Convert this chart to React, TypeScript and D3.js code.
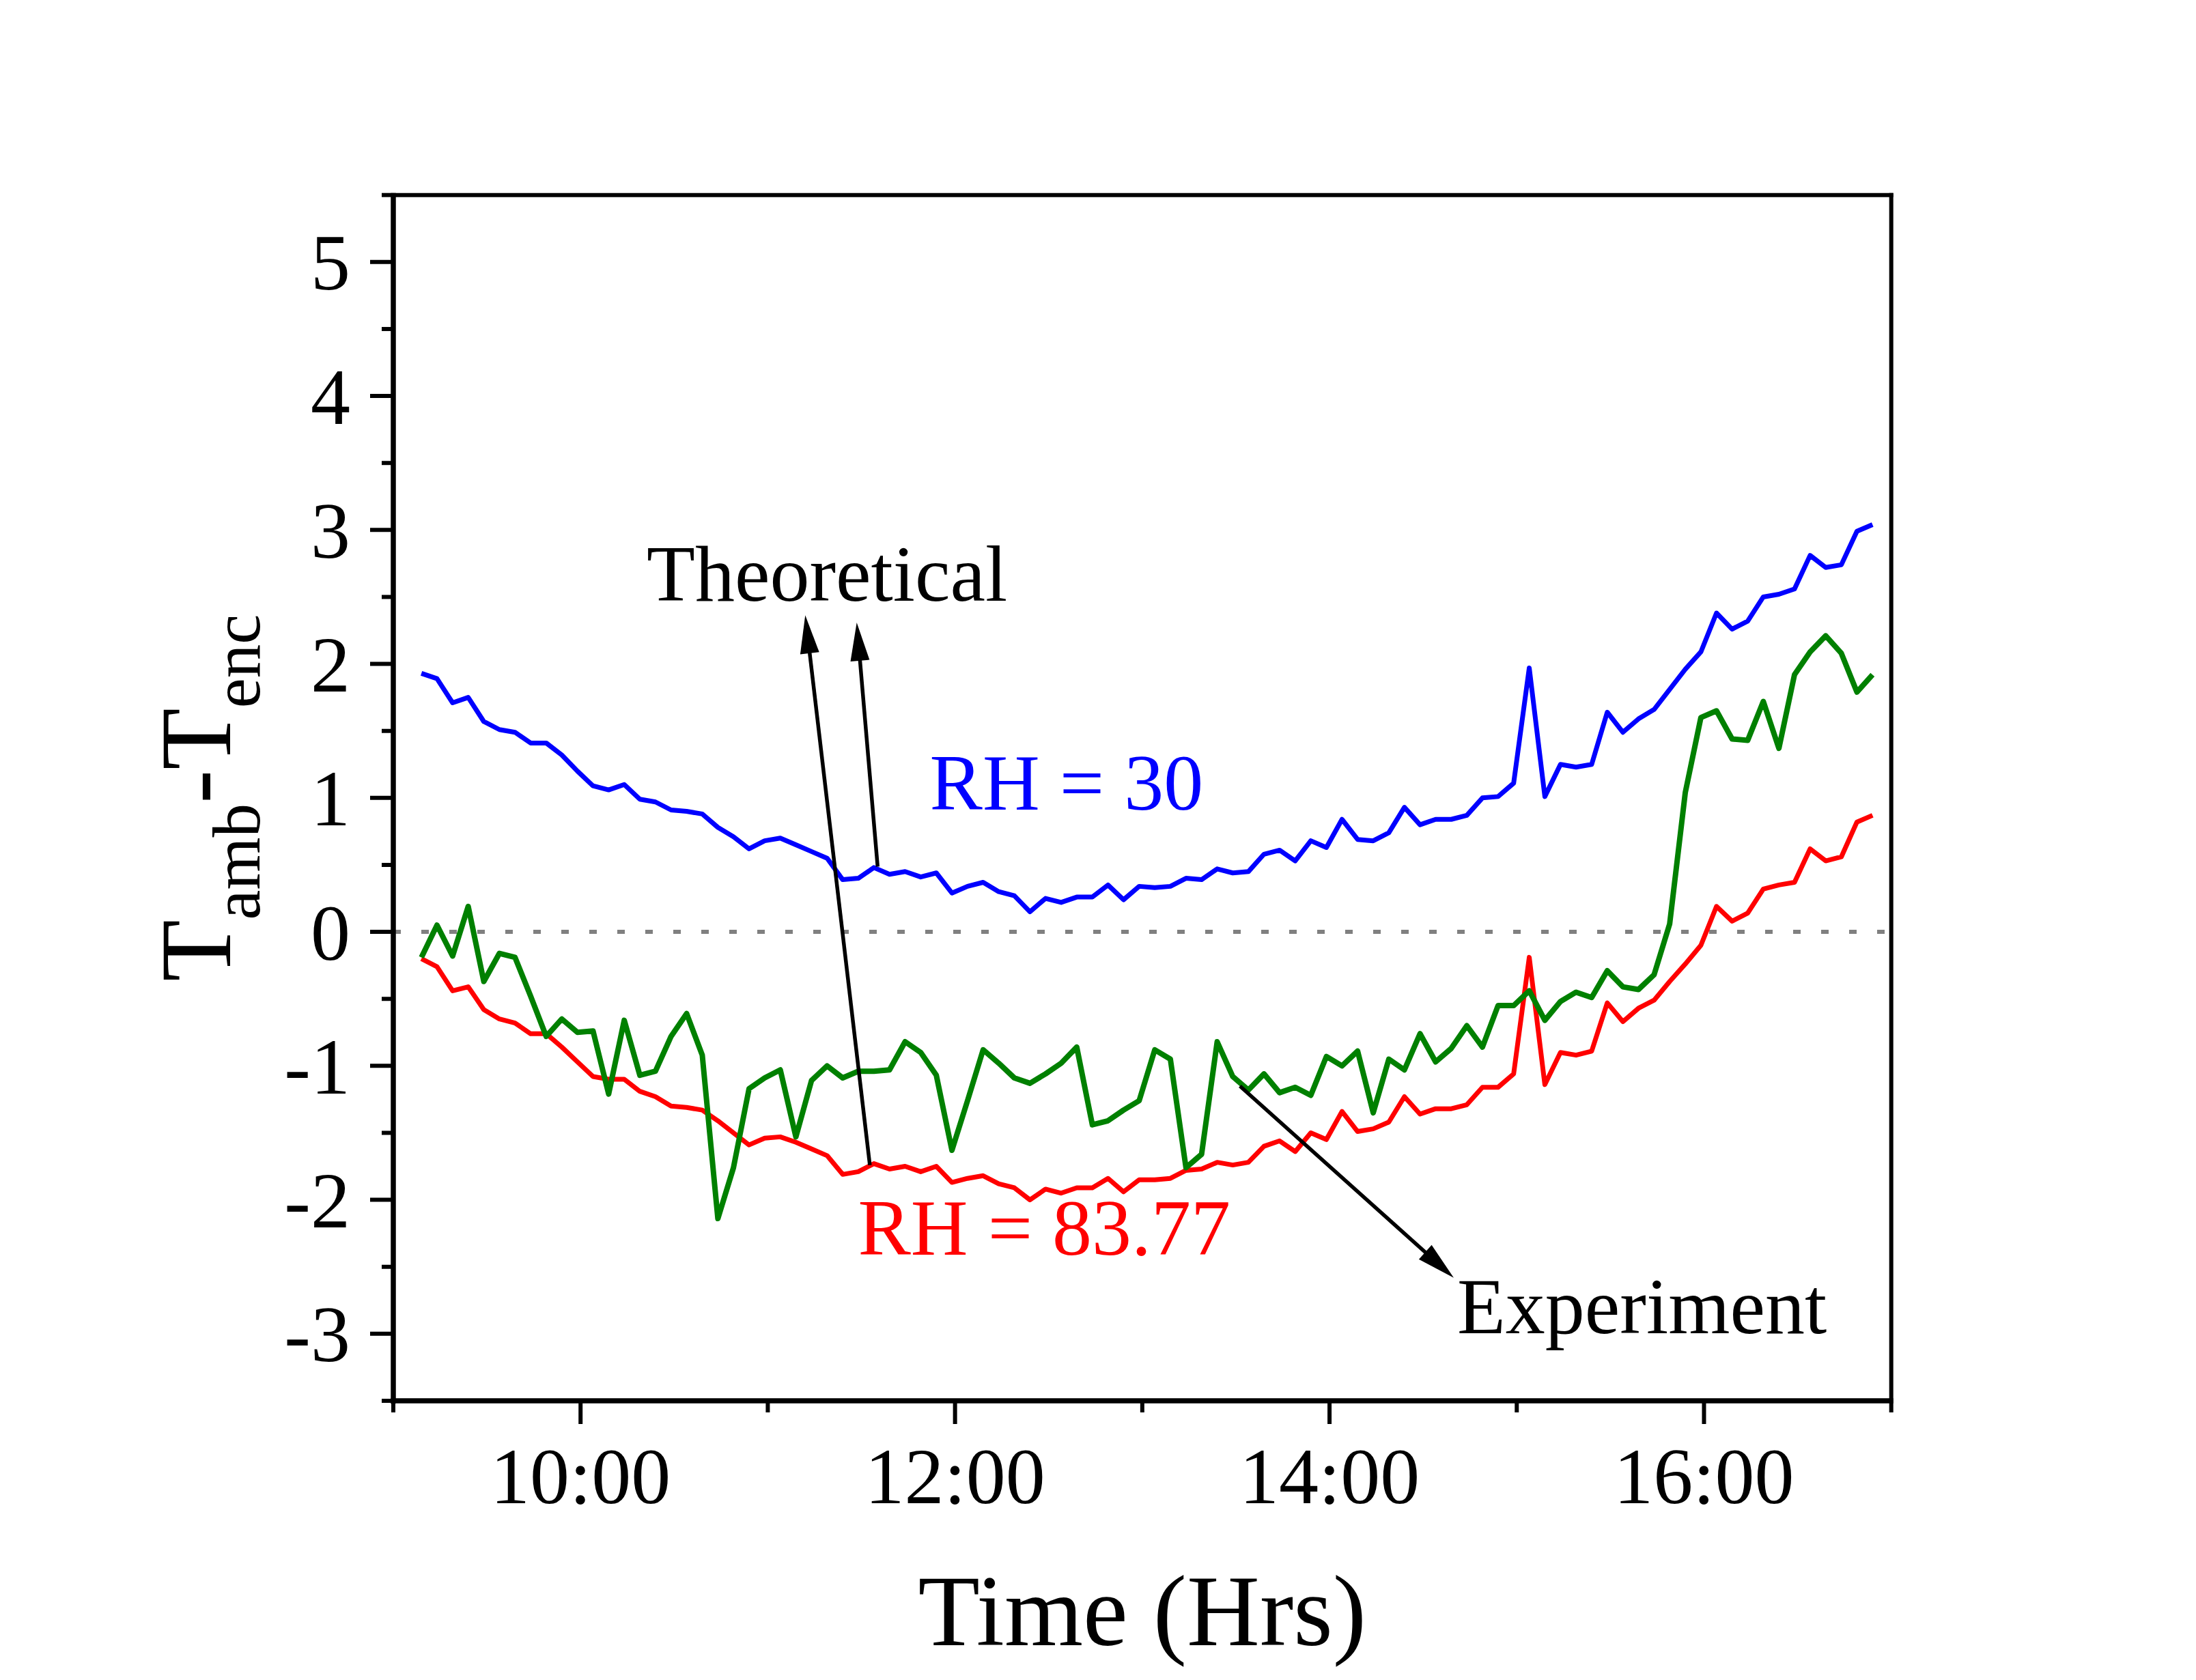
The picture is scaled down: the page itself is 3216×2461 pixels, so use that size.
import React, { useEffect } from "react";
import * as d3 from "d3";

// ---------- data ----------
const times: string[] = [
  "09:09","09:14","09:19","09:24","09:29","09:34","09:39","09:44","09:49","09:54",
  "09:59","10:04","10:09","10:14","10:19","10:24","10:29","10:34","10:39","10:44",
  "10:49","10:54","10:59","11:04","11:09","11:14","11:19","11:24","11:29","11:34",
  "11:39","11:44","11:49","11:54","11:59","12:04","12:09","12:14","12:19","12:24",
  "12:29","12:34","12:39","12:44","12:49","12:54","12:59","13:04","13:09","13:14",
  "13:19","13:24","13:29","13:34","13:39","13:44","13:49","13:54","13:59","14:04",
  "14:09","14:14","14:19","14:24","14:29","14:34","14:39","14:44","14:49","14:54",
  "14:59","15:04","15:09","15:14","15:19","15:24","15:29","15:34","15:39","15:44",
  "15:49","15:54","15:59","16:04","16:09","16:14","16:19","16:24","16:29","16:34",
  "16:39","16:44","16:49","16:54",
];

// Theoretical, RH = 30
const theoryRH30: number[] = [
  1.93,1.89,1.71,1.75,1.57,1.51,1.49,1.41,1.41,1.32,
  1.20,1.09,1.06,1.10,0.99,0.97,0.91,0.90,0.88,0.78,
  0.71,0.62,0.68,0.70,0.65,0.60,0.55,0.39,0.40,0.48,
  0.43,0.45,0.41,0.44,0.29,0.34,0.37,0.30,0.27,0.15,
  0.25,0.22,0.26,0.26,0.35,0.24,0.34,0.33,0.34,0.40,
  0.39,0.47,0.44,0.45,0.58,0.61,0.53,0.68,0.63,0.84,
  0.69,0.68,0.74,0.93,0.80,0.84,0.84,0.87,1.00,1.01,
  1.11,1.97,1.01,1.25,1.23,1.25,1.64,1.49,1.59,1.66,
  1.81,1.96,2.09,2.38,2.26,2.32,2.50,2.52,2.56,2.81,
  2.72,2.74,2.99,3.04,
];

// Theoretical, RH = 83.77
const theoryRH8377: number[] = [
  -0.20,-0.26,-0.44,-0.41,-0.58,-0.65,-0.68,-0.76,-0.76,-0.86,
  -0.97,-1.08,-1.10,-1.10,-1.19,-1.23,-1.30,-1.31,-1.33,-1.41,
  -1.50,-1.59,-1.54,-1.53,-1.57,-1.62,-1.67,-1.81,-1.79,-1.73,
  -1.77,-1.75,-1.79,-1.75,-1.87,-1.84,-1.82,-1.88,-1.91,-2.00,
  -1.92,-1.95,-1.91,-1.91,-1.84,-1.94,-1.85,-1.85,-1.84,-1.78,
  -1.77,-1.72,-1.74,-1.72,-1.60,-1.56,-1.64,-1.50,-1.55,-1.34,
  -1.49,-1.47,-1.42,-1.23,-1.36,-1.32,-1.32,-1.29,-1.16,-1.16,
  -1.06,-0.19,-1.14,-0.90,-0.92,-0.89,-0.53,-0.67,-0.57,-0.51,
  -0.37,-0.24,-0.10,0.19,0.08,0.14,0.32,0.35,0.37,0.62,
  0.53,0.56,0.82,0.87,
];

// Experiment
const experiment: number[] = [
  -0.19,0.05,-0.18,0.19,-0.37,-0.16,-0.19,-0.48,-0.78,-0.65,
  -0.75,-0.74,-1.21,-0.66,-1.07,-1.04,-0.78,-0.61,-0.92,-2.14,
  -1.76,-1.17,-1.09,-1.03,-1.53,-1.11,-1.00,-1.09,-1.04,-1.04,
  -1.03,-0.82,-0.90,-1.07,-1.63,-1.26,-0.88,-0.98,-1.09,-1.13,
  -1.06,-0.98,-0.86,-1.44,-1.41,-1.33,-1.26,-0.88,-0.95,-1.76,
  -1.66,-0.82,-1.08,-1.18,-1.06,-1.20,-1.16,-1.22,-0.93,-1.00,
  -0.89,-1.35,-0.95,-1.03,-0.76,-0.97,-0.87,-0.70,-0.86,-0.55,
  -0.55,-0.44,-0.66,-0.52,-0.45,-0.49,-0.29,-0.41,-0.43,-0.32,
  0.06,1.04,1.60,1.65,1.44,1.43,1.72,1.37,1.92,2.09,
  2.21,2.08,1.79,1.92,
];

const xMajorLabels: string[] = ["10:00", "12:00", "14:00", "16:00"];
const xMinorLabels: string[] = ["09:00", "11:00", "13:00", "15:00", "17:00"];
const yMajorTicks: number[] = [-3, -2, -1, 0, 1, 2, 3, 4, 5];
const yMinorTicks: number[] = [-3.5, -2.5, -1.5, -0.5, 0.5, 1.5, 2.5, 3.5, 4.5, 5.5];

// annotation anchors in data coordinates [time, value]
const arrowTheoryA = { from: ["11:32.7", -1.741], to: ["11:12.0", 2.363] };
const arrowTheoryB = { from: ["11:35.2", 0.487], to: ["11:28.5", 2.309] };
const arrowExperiment = { from: ["13:31.3", -1.151], to: ["14:39.8", -2.581] };
const labelTheoretical = { text: "Theoretical", at: ["10:21.2", 2.472] };
const labelRH30 = { text: "RH = 30", at: ["11:51.9", 0.915] };
const labelRH8377 = { text: "RH = 83.77", at: ["11:28.9", -2.408] };
const labelExperiment = { text: "Experiment", at: ["14:40.9", -2.997] };

// ---------- helpers ----------
const toMin = (s: string) => {
  const [h, m] = s.split(":");
  return +h * 60 + +m;
};

const FONT = "'Liberation Serif', 'Times New Roman', Times, serif";

export default function App() {
  useEffect(() => {
    document.body.style.margin = "0";
  }, []);

  const W = 3216;
  const H = 2461;
  const left = 576;
  const right = 2769.7;
  const top = 285.7;
  const bottom = 2052;

  const x = d3.scaleLinear().domain([toMin("09:00"), toMin("17:00")]).range([left, right]);
  const y = d3.scaleLinear().domain([-3.5, 5.5]).range([bottom, top]);

  const line = d3
    .line<[string, number]>()
    .x((d) => x(toMin(d[0])))
    .y((d) => y(d[1]));

  const zip = (vals: number[]) => times.map((t, i) => [t, vals[i]] as [string, number]);

  const arrow = (a: { from: (string | number)[]; to: (string | number)[] }, key: string) => {
    const x0 = x(toMin(a.from[0] as string));
    const y0 = y(a.from[1] as number);
    const x1 = x(toMin(a.to[0] as string));
    const y1 = y(a.to[1] as number);
    const dx = x1 - x0;
    const dy = y1 - y0;
    const len = Math.hypot(dx, dy);
    const ux = dx / len;
    const uy = dy / len;
    const L = 56;
    const hw = 14;
    const bx = x1 - ux * L;
    const by = y1 - uy * L;
    const p1 = [bx - uy * hw, by + ux * hw];
    const p2 = [bx + uy * hw, by - ux * hw];
    return (
      <g key={key}>
        <line x1={x0} y1={y0} x2={bx + ux * 4} y2={by + uy * 4} stroke="#000" strokeWidth={5.5} />
        <polygon points={`${x1},${y1} ${p1[0]},${p1[1]} ${p2[0]},${p2[1]}`} fill="#000" />
      </g>
    );
  };

  const label = (l: { text: string; at: (string | number)[] }, color: string) => (
    <text
      x={x(toMin(l.at[0] as string))}
      y={y(l.at[1] as number)}
      fontSize={116}
      fontFamily={FONT}
      fill={color}
    >
      {l.text}
    </text>
  );

  return (
    <svg width={W} height={H} style={{ display: "block", background: "#fff" }}>
      <rect x={0} y={0} width={W} height={H} fill="#fff" />

      {/* zero reference line */}
      <line
        x1={left}
        x2={right}
        y1={y(0)}
        y2={y(0)}
        stroke="#808080"
        strokeWidth={6}
        strokeDasharray="11 30"
      />

      {/* series */}
      <path d={line(zip(theoryRH30)) || ""} fill="none" stroke="#0000ff" strokeWidth={7} strokeLinejoin="round" />
      <path d={line(zip(theoryRH8377)) || ""} fill="none" stroke="#ff0000" strokeWidth={7} strokeLinejoin="round" />
      <path d={line(zip(experiment)) || ""} fill="none" stroke="#008000" strokeWidth={8} strokeLinejoin="round" />

      {/* frame */}
      <line x1={left} x2={right + 3} y1={top} y2={top} stroke="#000" strokeWidth={6} />
      <line x1={right} x2={right} y1={top - 3} y2={bottom} stroke="#000" strokeWidth={6} />
      <line x1={left} x2={left} y1={top - 3} y2={bottom + 4} stroke="#000" strokeWidth={7.5} />
      <line x1={left - 4} x2={right + 3} y1={bottom} y2={bottom} stroke="#000" strokeWidth={7.5} />

      {/* y ticks */}
      {yMajorTicks.map((v) => (
        <g key={`ym${v}`}>
          <line x1={left - 34} x2={left} y1={y(v)} y2={y(v)} stroke="#000" strokeWidth={6} />
          <text
            x={513}
            y={y(v)}
            dy="0.35em"
            textAnchor="end"
            fontSize={116}
            fontFamily={FONT}
            fill="#000"
          >
            {v < 0 ? `-${Math.abs(v)}` : `${v}`}
          </text>
        </g>
      ))}
      {yMinorTicks.map((v) => (
        <line key={`yn${v}`} x1={left - 17} x2={left} y1={y(v)} y2={y(v)} stroke="#000" strokeWidth={6} />
      ))}

      {/* x ticks */}
      {xMajorLabels.map((t) => (
        <g key={`xm${t}`}>
          <line x1={x(toMin(t))} x2={x(toMin(t))} y1={bottom} y2={bottom + 34} stroke="#000" strokeWidth={6} />
          <text
            x={x(toMin(t))}
            y={2202}
            textAnchor="middle"
            fontSize={116}
            fontFamily={FONT}
            fill="#000"
          >
            {t}
          </text>
        </g>
      ))}
      {xMinorLabels.map((t) => (
        <line key={`xn${t}`} x1={x(toMin(t))} x2={x(toMin(t))} y1={bottom} y2={bottom + 17} stroke="#000" strokeWidth={6} />
      ))}

      {/* axis titles */}
      <text
        x={(left + right) / 2}
        y={2410}
        textAnchor="middle"
        fontSize={148}
        fontFamily={FONT}
        fill="#000"
      >
        Time (Hrs)
      </text>
      <text
        transform={`translate(337, ${(top + bottom) / 2}) rotate(-90)`}
        textAnchor="middle"
        fontSize={148}
        fontFamily={FONT}
        fill="#000"
      >
        <tspan>T</tspan>
        <tspan fontSize={99} dy={43}>amb</tspan>
        <tspan dy={-43}>-</tspan>
        <tspan>T</tspan>
        <tspan fontSize={99} dy={43}>enc</tspan>
      </text>

      {/* annotations */}
      {arrow(arrowTheoryA, "a1")}
      {arrow(arrowTheoryB, "a2")}
      {arrow(arrowExperiment, "a3")}
      {label(labelTheoretical, "#000")}
      {label(labelRH30, "#0000ff")}
      {label(labelRH8377, "#ff0000")}
      {label(labelExperiment, "#000")}
    </svg>
  );
}
